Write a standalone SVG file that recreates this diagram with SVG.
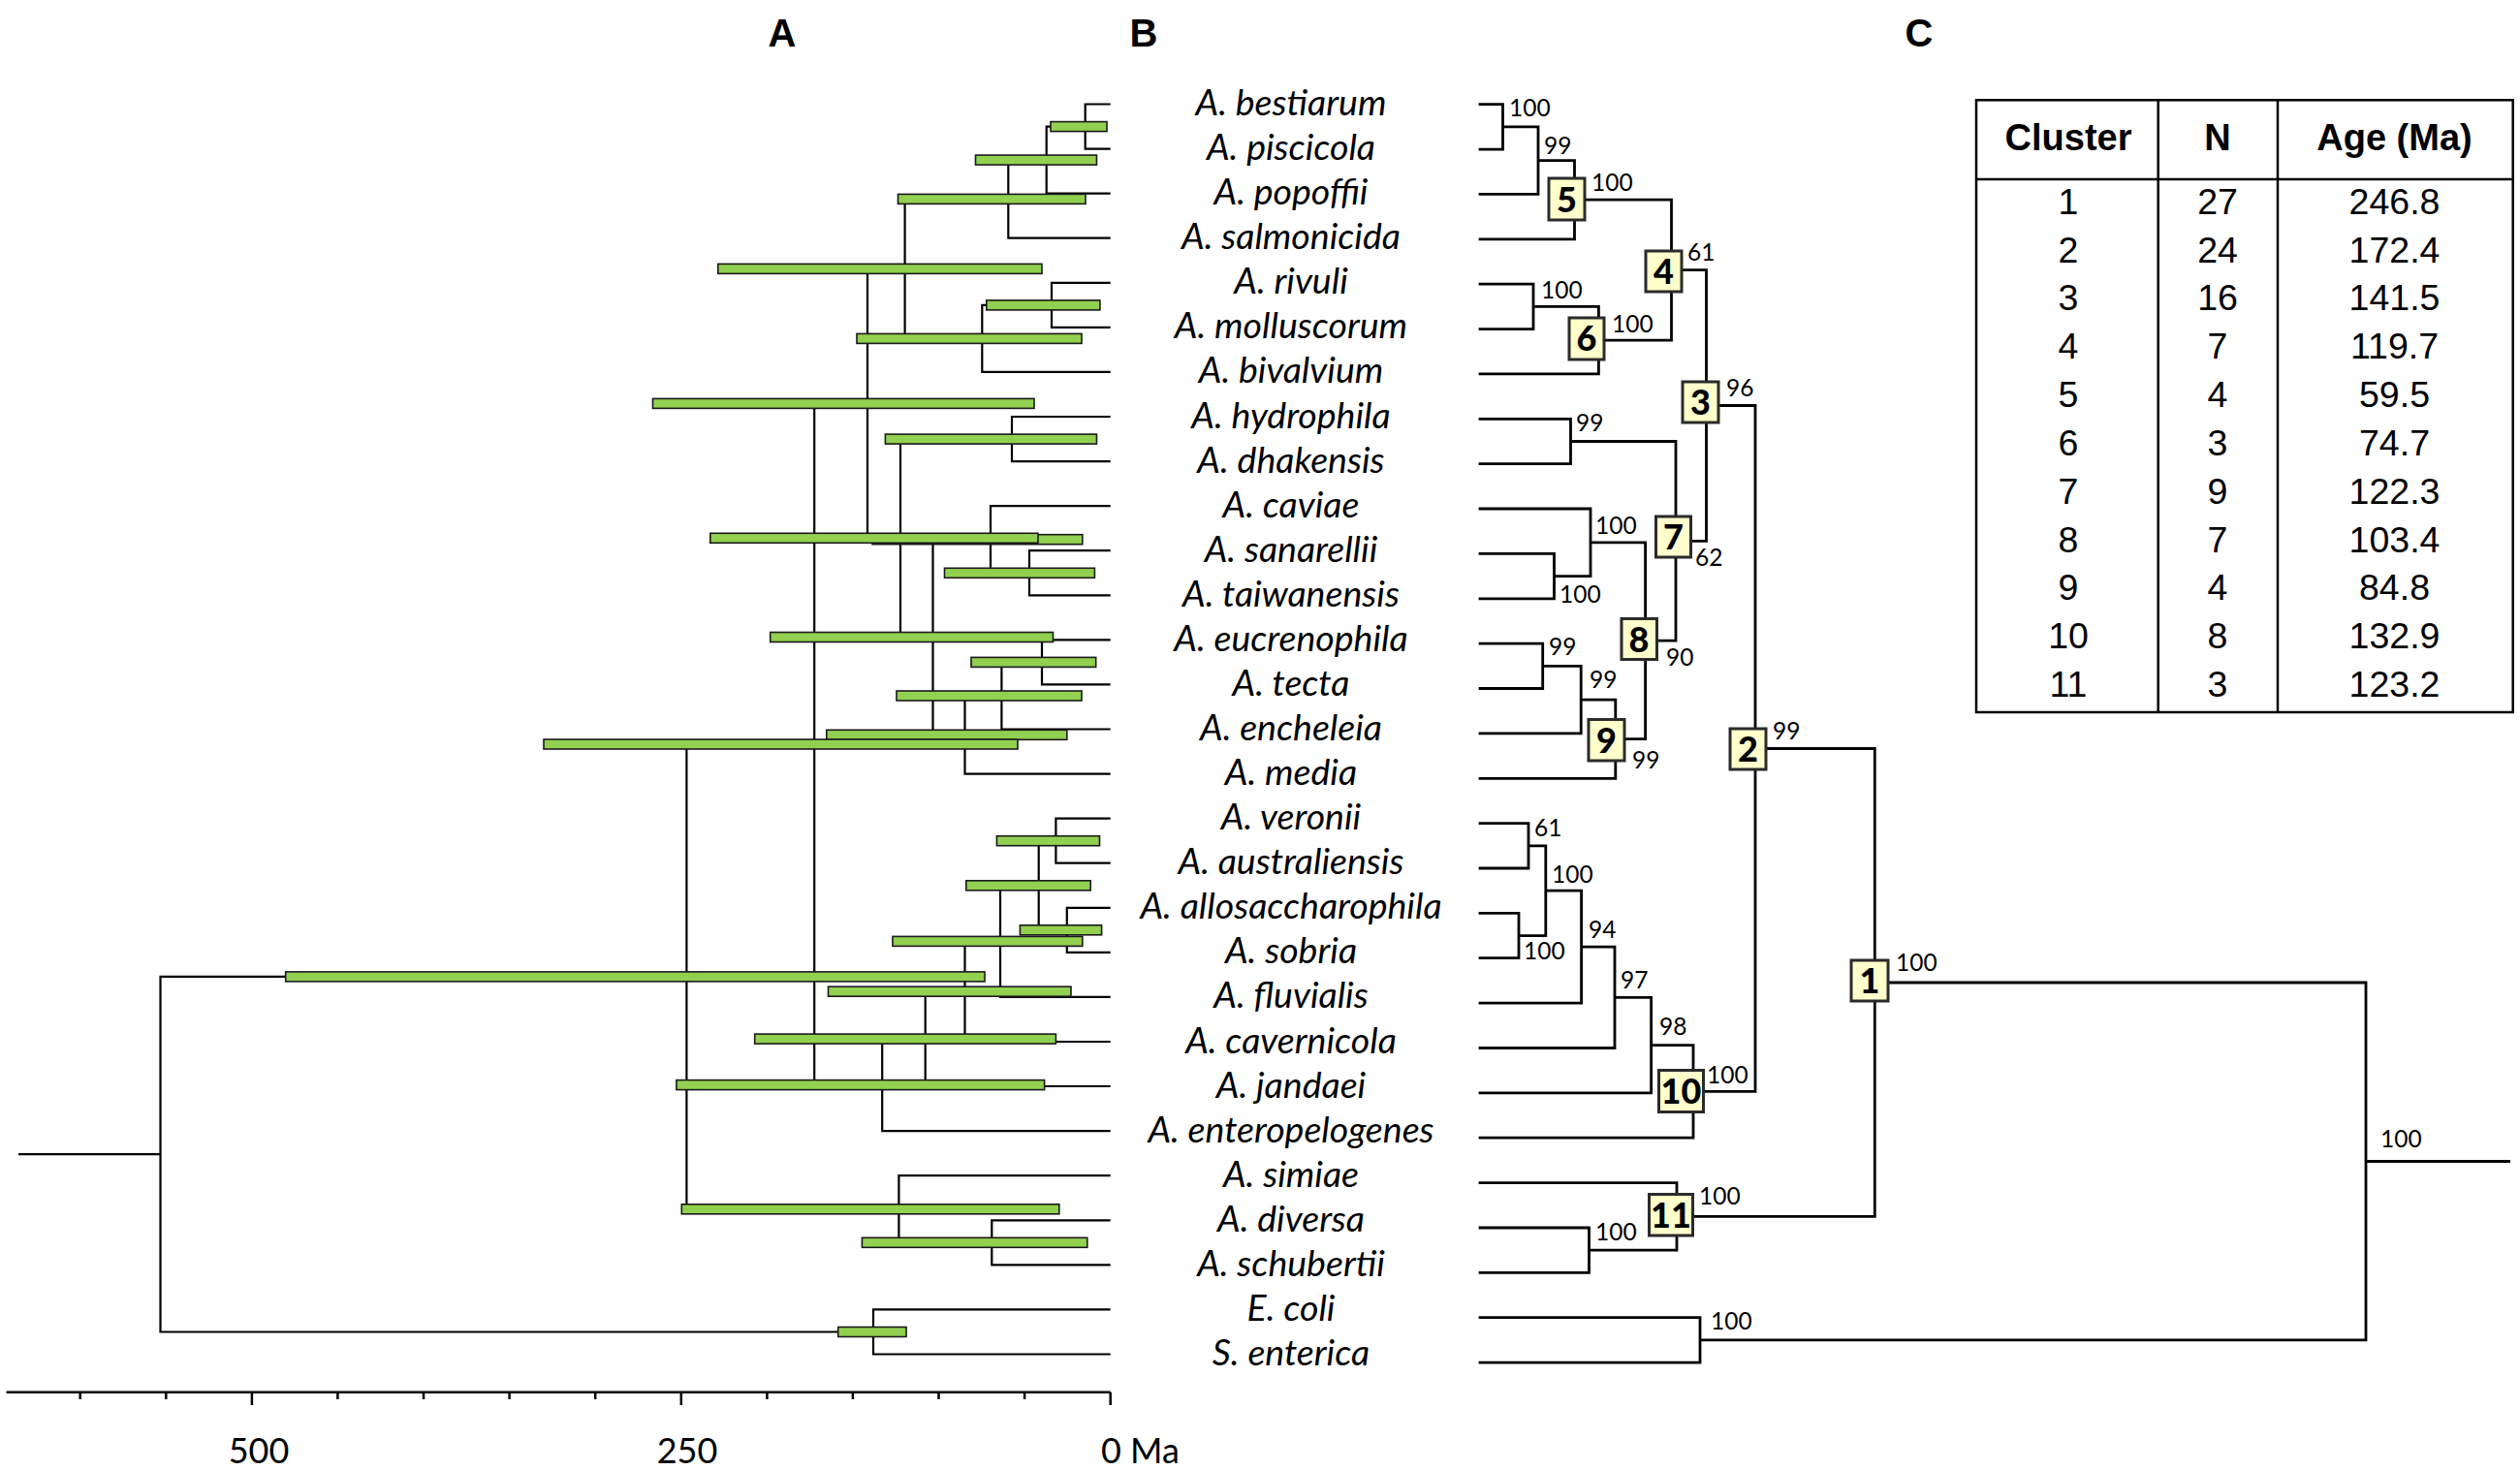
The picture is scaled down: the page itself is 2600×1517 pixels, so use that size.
<svg xmlns="http://www.w3.org/2000/svg" width="2600" height="1517" viewBox="0 0 2600 1517">
<style>
.ta{fill:none;stroke:#000;stroke-width:2.2}
.tb{fill:none;stroke:#000;stroke-width:2.8}
.bar{fill:#92D050;stroke:#1a1a1a;stroke-width:1.6}
.sp{font-family:Lato,"Liberation Sans",sans-serif;font-style:italic;font-size:37.5px;text-anchor:middle;fill:#000}
.bs{font-family:Lato,"Liberation Sans",sans-serif;font-size:24.5px;fill:#000}
.bx{fill:#FFFFCC;stroke:#2b2b2b;stroke-width:3}
.bn{font-family:Lato,"Liberation Sans",sans-serif;font-weight:900;font-size:36px;text-anchor:middle;fill:#000}
.tt{font-family:"Liberation Sans",Arial,sans-serif;font-weight:bold;font-size:40px;text-anchor:middle}
.th{font-family:"Liberation Sans",Arial,sans-serif;font-weight:bold;font-size:38px;text-anchor:middle}
.td{font-family:"Liberation Sans",Arial,sans-serif;font-size:37.5px;text-anchor:middle}
.ax{font-family:Lato,"Liberation Sans",sans-serif;font-size:36px}
.tl{fill:none;stroke:#000;stroke-width:2.5}
</style>
<rect width="2600" height="1517" fill="#fff"/>

<g id="titles">
<text class="tt" x="807" y="48">A</text>
<text class="tt" x="1180" y="48">B</text>
<text class="tt" x="1980" y="48">C</text>
</g>

<g id="connectors">
<g id="treeA">
<path class="ta" d="M1145.7 107.5H1119.7V153.6H1145.7"/>
<path class="ta" d="M1119.7 130.6H1079.7V199.6H1145.7"/>
<path class="ta" d="M1079.7 165.1H1040.3V245.7H1145.7"/>
<path class="ta" d="M1145.7 291.8H1085V337.9H1145.7"/>
<path class="ta" d="M1085 314.9H1013.3V383.9H1145.7"/>
<path class="ta" d="M1040.3 205.4H933.6V349.4H1013.3"/>
<path class="ta" d="M1145.7 430H1044V476.1H1145.7"/>
<path class="ta" d="M1145.7 568.2H1062V614.3H1145.7"/>
<path class="ta" d="M1145.7 522.1H1022V591.3H1062"/>
<path class="ta" d="M1145.7 660.3H1075V706.4H1145.7"/>
<path class="ta" d="M1075 683.4H1033.4V752.5H1145.7"/>
<path class="ta" d="M1033.4 718H995.5V798.6H1145.7"/>
<path class="ta" d="M1022 556.7H962.5V758.3H995.5"/>
<path class="ta" d="M1044 453.1H929V657.5H962.5"/>
<path class="ta" d="M933.6 277.4H895V555.3H929"/>
<path class="ta" d="M1145.7 844.6H1089.4V890.7H1145.7"/>
<path class="ta" d="M1145.7 936.8H1100.8V982.8H1145.7"/>
<path class="ta" d="M1089.4 867.7H1071.7V959.8H1100.8"/>
<path class="ta" d="M1071.7 913.8H1032V1028.9H1145.7"/>
<path class="ta" d="M1032 971.4H995.5V1075H1145.7"/>
<path class="ta" d="M995.5 1023.2H954.7V1121H1145.7"/>
<path class="ta" d="M954.7 1072.1H910.2V1167.1H1145.7"/>
<path class="ta" d="M895 416.4H840.2V1119.6H910.2"/>
<path class="ta" d="M1145.7 1259.3H1023.3V1305.3H1145.7"/>
<path class="ta" d="M1145.7 1213.2H927.4V1282.3H1023.3"/>
<path class="ta" d="M840.2 768H708.4V1247.8H927.4"/>
<path class="ta" d="M1145.7 1351.4H901V1397.5H1145.7"/>
<path class="ta" d="M708.4 1007.9H165.5V1374.5H901M19 1191.2H165.5"/>
</g>
<g id="treeB">
<path class="tb" d="M1525.6 107.7H1550.5V154.1H1525.6"/>
<path class="tb" d="M1550.5 130.9H1587V200.4H1525.6"/>
<path class="tb" d="M1587 165.6H1624.5V246.8H1525.6"/>
<path class="tb" d="M1525.6 293.2H1582V339.6H1525.6"/>
<path class="tb" d="M1582 316.4H1649.4V385.9H1525.6"/>
<path class="tb" d="M1624.5 206.2H1724.5V351.1H1649.4"/>
<path class="tb" d="M1525.6 432.3H1620.5V478.7H1525.6"/>
<path class="tb" d="M1525.6 571.4H1603.5V617.8H1525.6"/>
<path class="tb" d="M1525.6 525H1641V594.6H1603.5"/>
<path class="tb" d="M1525.6 664.1H1591.7V710.5H1525.6"/>
<path class="tb" d="M1591.7 687.3H1631.2V756.9H1525.6"/>
<path class="tb" d="M1631.2 722.1H1666.8V803.3H1525.6"/>
<path class="tb" d="M1641 559.8H1697.6V762.7H1666.8"/>
<path class="tb" d="M1620.5 455.5H1729V661.2H1697.6"/>
<path class="tb" d="M1724.5 278.7H1760.5V558.4H1729"/>
<path class="tb" d="M1525.6 849.6H1577V896H1525.6"/>
<path class="tb" d="M1525.6 942.4H1567V988.7H1525.6"/>
<path class="tb" d="M1577 872.8H1594.8V965.6H1567"/>
<path class="tb" d="M1594.8 919.2H1631.6V1035.1H1525.6"/>
<path class="tb" d="M1631.6 977.2H1666V1081.5H1525.6"/>
<path class="tb" d="M1666 1029.3H1703.6V1127.8H1525.6"/>
<path class="tb" d="M1703.6 1078.6H1747V1174.2H1525.6"/>
<path class="tb" d="M1760.5 418.5H1811V1126.4H1747"/>
<path class="tb" d="M1525.6 1267H1639.5V1313.3H1525.6"/>
<path class="tb" d="M1525.6 1220.6H1730V1290.2H1639.5"/>
<path class="tb" d="M1811 772.5H1934.3V1255.4H1730"/>
<path class="tb" d="M1525.6 1359.7H1754V1406.1H1525.6"/>
<path class="tb" d="M1934.3 1014H2441V1382.9H1754M2441 1198.5H2590"/>
</g>
</g>

<g id="bars">
<rect class="bar" x="1084" y="125.6" width="58" height="10"/>
<rect class="bar" x="1006.5" y="160.1" width="125" height="10"/>
<rect class="bar" x="926.5" y="200.4" width="193.5" height="10"/>
<rect class="bar" x="1017.8" y="309.9" width="117.1" height="10"/>
<rect class="bar" x="884" y="344.4" width="232" height="10"/>
<rect class="bar" x="740.8" y="272.4" width="334.2" height="10"/>
<rect class="bar" x="913.4" y="448.1" width="218.1" height="10"/>
<rect class="bar" x="673.5" y="411.4" width="393.5" height="10"/>
<rect class="bar" x="974.5" y="586.3" width="154.9" height="10"/>
<rect class="bar" x="900" y="551.7" width="216.8" height="10"/>
<rect class="bar" x="732.8" y="550.3" width="338.2" height="10"/>
<rect class="bar" x="1002" y="678.4" width="128.7" height="10"/>
<rect class="bar" x="925" y="713" width="191" height="10"/>
<rect class="bar" x="852.8" y="753.3" width="248" height="10"/>
<rect class="bar" x="794.7" y="652.5" width="291.8" height="10"/>
<rect class="bar" x="1028.4" y="862.7" width="106.1" height="10"/>
<rect class="bar" x="1052.4" y="954.8" width="84.2" height="10"/>
<rect class="bar" x="996.8" y="908.8" width="128.4" height="10"/>
<rect class="bar" x="921" y="966.4" width="195.8" height="10"/>
<rect class="bar" x="294.7" y="1002.9" width="721.3" height="10"/>
<rect class="bar" x="854.5" y="1018.2" width="250.5" height="10"/>
<rect class="bar" x="561" y="763" width="489" height="10"/>
<rect class="bar" x="778.7" y="1067.1" width="310.7" height="10"/>
<rect class="bar" x="697.9" y="1114.6" width="379.7" height="10"/>
<rect class="bar" x="703.3" y="1242.8" width="389.5" height="10"/>
<rect class="bar" x="889.4" y="1277.3" width="232.4" height="10"/>
<rect class="bar" x="864.7" y="1369.5" width="70.3" height="10"/>
</g>

<g id="axis">
<path class="tl" d="M6.6 1436.7H1145.7"/>
<path class="tl" d="M1145.7 1436.7V1450M702.8 1436.7V1450M259.9 1436.7V1450M1057.1 1436.7V1444M968.5 1436.7V1444M879.9 1436.7V1444M791.4 1436.7V1444M614.2 1436.7V1444M525.6 1436.7V1444M437 1436.7V1444M348.4 1436.7V1444M171.3 1436.7V1444M82.7 1436.7V1444"/>
<text class="ax" x="267" y="1510" text-anchor="middle">500</text>
<text class="ax" x="709" y="1510" text-anchor="middle">250</text>
<text class="ax" x="1136" y="1510">0 Ma</text>
</g>

<g id="taxa">
<g id="t0"><text class="sp" x="1332" y="119">A. bestiarum</text></g>
<g id="t1"><text class="sp" x="1332" y="165.1">A. piscicola</text></g>
<g id="t2"><text class="sp" x="1332" y="211.1">A. popoffii</text></g>
<g id="t3"><text class="sp" x="1332" y="257.2">A. salmonicida</text></g>
<g id="t4"><text class="sp" x="1332" y="303.3">A. rivuli</text></g>
<g id="t5"><text class="sp" x="1332" y="349.4">A. molluscorum</text></g>
<g id="t6"><text class="sp" x="1332" y="395.4">A. bivalvium</text></g>
<g id="t7"><text class="sp" x="1332" y="441.5">A. hydrophila</text></g>
<g id="t8"><text class="sp" x="1332" y="487.6">A. dhakensis</text></g>
<g id="t9"><text class="sp" x="1332" y="533.6">A. caviae</text></g>
<g id="t10"><text class="sp" x="1332" y="579.7">A. sanarellii</text></g>
<g id="t11"><text class="sp" x="1332" y="625.8">A. taiwanensis</text></g>
<g id="t12"><text class="sp" x="1332" y="671.8">A. eucrenophila</text></g>
<g id="t13"><text class="sp" x="1332" y="717.9">A. tecta</text></g>
<g id="t14"><text class="sp" x="1332" y="764">A. encheleia</text></g>
<g id="t15"><text class="sp" x="1332" y="810.1">A. media</text></g>
<g id="t16"><text class="sp" x="1332" y="856.1">A. veronii</text></g>
<g id="t17"><text class="sp" x="1332" y="902.2">A. australiensis</text></g>
<g id="t18"><text class="sp" x="1332" y="948.3">A. allosaccharophila</text></g>
<g id="t19"><text class="sp" x="1332" y="994.3">A. sobria</text></g>
<g id="t20"><text class="sp" x="1332" y="1040.4">A. fluvialis</text></g>
<g id="t21"><text class="sp" x="1332" y="1086.5">A. cavernicola</text></g>
<g id="t22"><text class="sp" x="1332" y="1132.5">A. jandaei</text></g>
<g id="t23"><text class="sp" x="1332" y="1178.6">A. enteropelogenes</text></g>
<g id="t24"><text class="sp" x="1332" y="1224.7">A. simiae</text></g>
<g id="t25"><text class="sp" x="1332" y="1270.8">A. diversa</text></g>
<g id="t26"><text class="sp" x="1332" y="1316.8">A. schubertii</text></g>
<g id="t27"><text class="sp" x="1332" y="1362.9">E. coli</text></g>
<g id="t28"><text class="sp" x="1332" y="1409">S. enterica</text></g>
</g>

<g id="support">
<text class="bs" x="1557" y="120">100</text>
<text class="bs" x="1593" y="159">99</text>
<text class="bs" x="1642" y="197">100</text>
<text class="bs" x="1741" y="269">61</text>
<text class="bs" x="1590" y="308">100</text>
<text class="bs" x="1663" y="343">100</text>
<text class="bs" x="1626" y="445">99</text>
<text class="bs" x="1781" y="409">96</text>
<text class="bs" x="1646" y="551">100</text>
<text class="bs" x="1609" y="622">100</text>
<text class="bs" x="1749" y="584">62</text>
<text class="bs" x="1598" y="676">99</text>
<text class="bs" x="1640" y="710">99</text>
<text class="bs" x="1684" y="793">99</text>
<text class="bs" x="1719" y="687">90</text>
<text class="bs" x="1583" y="863">61</text>
<text class="bs" x="1572" y="990">100</text>
<text class="bs" x="1601" y="911">100</text>
<text class="bs" x="1639" y="968">94</text>
<text class="bs" x="1672" y="1020">97</text>
<text class="bs" x="1712" y="1068">98</text>
<text class="bs" x="1761" y="1118">100</text>
<text class="bs" x="1829" y="763">99</text>
<text class="bs" x="1646" y="1280">100</text>
<text class="bs" x="1753" y="1243">100</text>
<text class="bs" x="1956" y="1002">100</text>
<text class="bs" x="1765" y="1372">100</text>
<text class="bs" x="2456" y="1184">100</text>
</g>

<g id="clusters">
<g id="c1"><rect class="bx" x="1910" y="991" width="38" height="42"/><text class="bn" x="1929" y="1025">1</text></g>
<g id="c2"><rect class="bx" x="1785" y="752" width="37" height="42"/><text class="bn" x="1803.5" y="786">2</text></g>
<g id="c3"><rect class="bx" x="1736" y="394" width="37" height="42"/><text class="bn" x="1754.5" y="428">3</text></g>
<g id="c4"><rect class="bx" x="1698" y="259" width="37" height="42"/><text class="bn" x="1716.5" y="293">4</text></g>
<g id="c5"><rect class="bx" x="1598" y="184" width="37" height="43"/><text class="bn" x="1616.5" y="218.5">5</text></g>
<g id="c6"><rect class="bx" x="1619" y="328" width="36" height="43"/><text class="bn" x="1637" y="362">6</text></g>
<g id="c7"><rect class="bx" x="1708.5" y="533" width="36" height="42"/><text class="bn" x="1726.5" y="567">7</text></g>
<g id="c8"><rect class="bx" x="1673" y="638.5" width="36.5" height="42"/><text class="bn" x="1691" y="672.5">8</text></g>
<g id="c9"><rect class="bx" x="1639" y="742.5" width="37" height="42.5"/><text class="bn" x="1657.5" y="776.5">9</text></g>
<g id="c10"><rect class="bx" x="1711.5" y="1104.5" width="46" height="43"/><text class="bn" x="1734.5" y="1138.5">10</text></g>
<g id="c11"><rect class="bx" x="1701.5" y="1232.5" width="45" height="42.5"/><text class="bn" x="1724" y="1266.5">11</text></g>
</g>

<g id="table">
<rect class="tl" x="2039" y="103.3" width="553.7" height="631.7"/>
<path class="tl" d="M2039 185H2592.7M2226.7 103.3V735M2350 103.3V735"/>
<text class="th" x="2134" y="155">Cluster</text>
<text class="th" x="2288" y="155">N</text>
<text class="th" x="2470.5" y="155">Age (Ma)</text>
<text class="td" x="2134" y="220.7">1</text><text class="td" x="2288" y="220.7">27</text><text class="td" x="2470.5" y="220.7">246.8</text>
<text class="td" x="2134" y="270.5">2</text><text class="td" x="2288" y="270.5">24</text><text class="td" x="2470.5" y="270.5">172.4</text>
<text class="td" x="2134" y="320.4">3</text><text class="td" x="2288" y="320.4">16</text><text class="td" x="2470.5" y="320.4">141.5</text>
<text class="td" x="2134" y="370.2">4</text><text class="td" x="2288" y="370.2">7</text><text class="td" x="2470.5" y="370.2">119.7</text>
<text class="td" x="2134" y="420">5</text><text class="td" x="2288" y="420">4</text><text class="td" x="2470.5" y="420">59.5</text>
<text class="td" x="2134" y="469.9">6</text><text class="td" x="2288" y="469.9">3</text><text class="td" x="2470.5" y="469.9">74.7</text>
<text class="td" x="2134" y="519.7">7</text><text class="td" x="2288" y="519.7">9</text><text class="td" x="2470.5" y="519.7">122.3</text>
<text class="td" x="2134" y="569.5">8</text><text class="td" x="2288" y="569.5">7</text><text class="td" x="2470.5" y="569.5">103.4</text>
<text class="td" x="2134" y="619.3">9</text><text class="td" x="2288" y="619.3">4</text><text class="td" x="2470.5" y="619.3">84.8</text>
<text class="td" x="2134" y="669.2">10</text><text class="td" x="2288" y="669.2">8</text><text class="td" x="2470.5" y="669.2">132.9</text>
<text class="td" x="2134" y="719">11</text><text class="td" x="2288" y="719">3</text><text class="td" x="2470.5" y="719">123.2</text>
</g>
</svg>
